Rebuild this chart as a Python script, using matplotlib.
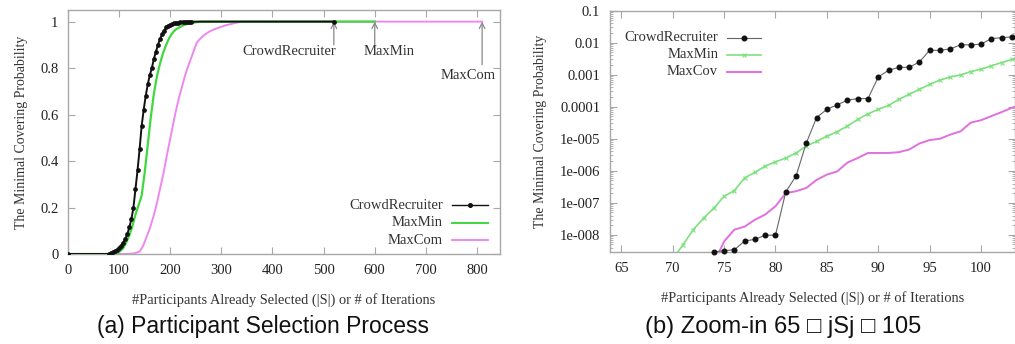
import matplotlib
matplotlib.use("Agg")
import matplotlib.pyplot as plt
from matplotlib.lines import Line2D
from matplotlib.ticker import FixedLocator, FixedFormatter, LogLocator, NullFormatter

# ---------------- data: panel (a) ----------------
crowd_x = [0, 80, 84, 88, 92, 96, 100, 104, 108, 112, 116, 120, 124, 128, 132, 136, 140,
           144, 148, 152, 156, 160, 164, 168, 172, 176, 180, 184, 188, 192, 196, 200, 204,
           208, 212, 216, 220, 224, 228, 232, 236, 240, 520]
crowd_y = [0.0, 0.0, 0.005, 0.008, 0.012, 0.018, 0.025, 0.035, 0.048, 0.065, 0.085, 0.115,
           0.15, 0.20, 0.28, 0.36, 0.45, 0.55, 0.62, 0.68, 0.73, 0.77, 0.80, 0.84, 0.87,
           0.90, 0.925, 0.945, 0.96, 0.975, 0.982, 0.987, 0.99, 0.993, 0.995, 0.996, 0.997,
           0.998, 0.999, 0.999, 1.0, 1.0, 1.0]

maxmin_x = [0, 90, 96, 102, 108, 114, 120, 126, 132, 138, 144, 150, 156, 162, 168, 174,
            180, 186, 192, 198, 204, 210, 220, 230, 240, 250, 260, 600]
maxmin_y = [0.0, 0.0, 0.005, 0.012, 0.025, 0.05, 0.08, 0.12, 0.17, 0.21, 0.25, 0.35, 0.47,
            0.59, 0.69, 0.765, 0.82, 0.865, 0.90, 0.93, 0.95, 0.965, 0.978, 0.988, 0.993,
            0.997, 1.0, 1.0]

maxcom_x = [0, 120, 130, 140, 147, 154, 160, 167, 174, 180, 187, 193, 198, 203, 208, 213,
            218, 223, 228, 232, 237, 242, 247, 252, 258, 265, 275, 284, 296, 310, 325, 340, 810]
maxcom_y = [0.0, 0.0, 0.003, 0.01, 0.035, 0.075, 0.11, 0.16, 0.22, 0.28, 0.35, 0.42, 0.475,
            0.53, 0.585, 0.635, 0.68, 0.72, 0.76, 0.79, 0.82, 0.85, 0.88, 0.91, 0.925, 0.94,
            0.955, 0.965, 0.975, 0.985, 0.993, 1.0, 1.0]

a_xticks = [0, 100, 200, 300, 400, 500, 600, 700, 800]
a_yticks = [0, 0.2, 0.4, 0.6, 0.8, 1]
a_yticklabels = ["0", "0.2", "0.4", "0.6", "0.8", "1"]

# ---------------- data: panel (b) ----------------
zc_x = [74, 75, 76, 77, 78, 79, 80, 81, 82, 83, 84, 85, 86, 87, 88, 89, 90, 91, 92, 93,
        94, 95, 96, 97, 98, 99, 100, 101, 102, 103]
zc_y = [2.9e-9, 3.2e-9, 3.4e-9, 6.4e-9, 7.2e-9, 9.7e-9, 9.7e-9, 2.2e-7, 6.9e-7, 7.4e-6,
        4.6e-5, 8.3e-5, 1.15e-4, 1.6e-4, 1.8e-4, 1.8e-4, 8.5e-4, 1.38e-3, 1.7e-3, 1.7e-3,
        2.5e-3, 5.8e-3, 5.8e-3, 6.4e-3, 8.6e-3, 8.6e-3, 9.0e-3, 1.35e-2, 1.43e-2, 1.53e-2]

zm_x = [70, 71, 72, 73, 74, 75, 76, 77, 78, 79, 80, 81, 82, 83, 84, 85, 86, 87, 88, 89,
        90, 91, 92, 93, 94, 95, 96, 97, 98, 99, 100, 101, 102, 103, 104]
zm_y = [1.7e-9, 4.9e-9, 1.45e-8, 3.3e-8, 6.8e-8, 1.6e-7, 2.4e-7, 6.0e-7, 8.9e-7, 1.4e-6,
        1.9e-6, 2.5e-6, 3.6e-6, 5.9e-6, 8.3e-6, 1.2e-5, 1.66e-5, 2.5e-5, 4.0e-5, 6.0e-5,
        8.3e-5, 1.1e-4, 1.7e-4, 2.45e-4, 3.5e-4, 5.0e-4, 6.8e-4, 8.5e-4, 9.8e-4, 1.26e-3,
        1.48e-3, 1.9e-3, 2.4e-3, 3.0e-3, 3.8e-3]

zv_x = [74, 75, 76, 77, 78, 79, 80, 81, 82, 83, 84, 85, 86, 87, 88, 89, 90, 91, 92, 93,
        94, 95, 96, 97, 98, 99, 100, 101, 102, 103, 104]
zv_y = [1.3e-9, 6.2e-9, 1.45e-8, 1.8e-8, 2.95e-8, 4.3e-8, 7.8e-8, 2.0e-7, 2.3e-7, 2.9e-7,
        5.2e-7, 7.6e-7, 9.5e-7, 1.8e-6, 2.5e-6, 3.6e-6, 3.6e-6, 3.6e-6, 3.8e-6, 4.6e-6,
        7.1e-6, 9.1e-6, 1.0e-5, 1.35e-5, 1.7e-5, 3.2e-5, 3.8e-5, 5.1e-5, 6.8e-5, 9.3e-5, 1.2e-4]

b_xticks = [65, 70, 75, 80, 85, 90, 95, 100]
b_yticks = [1e-1, 1e-2, 1e-3, 1e-4, 1e-5, 1e-6, 1e-7, 1e-8]
b_yticklabels = ["0.1", "0.01", "0.001", "0.0001", "1e-005", "1e-006", "1e-007", "1e-008"]

a_labels = ["CrowdRecruiter", "MaxMin", "MaxCom"]
b_labels = ["CrowdRecruiter", "MaxMin", "MaxCov"]
xlabel = "#Participants Already Selected (|S|) or # of Iterations"
ylabel = "The Minimal Covering Probability"
cap_a = "(a) Participant Selection Process"
cap_b = "(b) Zoom-in 65 \u25a1 jSj \u25a1 105"

# ---------------- style ----------------
SERIF = ["Liberation Serif", "DejaVu Serif"]
SANS = ["Liberation Sans", "DejaVu Sans"]
plt.rcParams["font.family"] = SERIF
SPINE = "#a8a8a8"
BLACK = "#111111"
GREEN = "#3fd83f"
GREEN_B = "#7fe07f"
PINK = "#ee88ee"
PINK_B = "#e070e0"
TXT = "#333333"

W, H = 1015, 344
fig = plt.figure(figsize=(W / 100, H / 100), dpi=100)


def style_axes(ax):
    for s in ax.spines.values():
        s.set_color(SPINE)
        s.set_linewidth(1.0)
    ax.tick_params(which="both", direction="in", top=True, right=True,
                   color=SPINE, labelsize=10.5, labelcolor="#222222")
    ax.tick_params(which="major", length=5, width=0.8, pad=7)
    ax.tick_params(which="minor", length=2.5, width=0.6)


# ---------------- panel (a) ----------------
axa = fig.add_axes([68 / W, 1 - 254 / H, (500 - 68) / W, (254 - 10) / H])
axa.plot(crowd_x, crowd_y, color=BLACK, lw=1.4, marker="o", ms=2.4, zorder=4)
axa.plot(maxmin_x, maxmin_y, color=GREEN, lw=1.6, zorder=3)
axa.plot(maxcom_x, maxcom_y, color=PINK, lw=1.4, zorder=2)
axa.set_xlim(0, 845)
axa.set_ylim(0, 1.05)
axa.xaxis.set_major_locator(FixedLocator(a_xticks))
axa.yaxis.set_major_locator(FixedLocator(a_yticks))
axa.yaxis.set_major_formatter(FixedFormatter(a_yticklabels))
style_axes(axa)

arrow_kw = dict(arrowstyle="->", color="#888888", lw=0.9, shrinkA=0, shrinkB=0)
axa.annotate("", xy=(crowd_x[-1], 1.0), xytext=(crowd_x[-1], 0.9), arrowprops=arrow_kw)
axa.annotate("", xy=(maxmin_x[-1], 1.0), xytext=(maxmin_x[-1], 0.9), arrowprops=arrow_kw)
axa.annotate("", xy=(maxcom_x[-1], 1.0), xytext=(maxcom_x[-1], 0.815), arrowprops=arrow_kw)
axa.text(crowd_x[-1] + 5, 0.87, a_labels[0], ha="right", va="center", fontsize=10.5, color=TXT)
axa.text(maxmin_x[-1] + 28, 0.87, a_labels[1], ha="center", va="center", fontsize=10.5, color=TXT)
axa.text(maxcom_x[-1] - 28, 0.77, a_labels[2], ha="center", va="center", fontsize=10.5, color=TXT)

# legend (gnuplot style: right-aligned text, sample to the right)
leg_a = [(a_labels[0], dict(color=BLACK, lw=1.0, marker="o", ms=2.6)),
         (a_labels[1], dict(color=GREEN, lw=1.4)),
         (a_labels[2], dict(color=PINK, lw=1.4))]
for i, (lab, kw) in enumerate(leg_a):
    yy = 0.20 - i * 0.072
    axa.text(0.868, yy, lab, transform=axa.transAxes, ha="right", va="center",
             fontsize=10.5, color=TXT)
    axa.add_line(Line2D([0.889, 0.9305, 0.972], [yy, yy, yy], transform=axa.transAxes,
                        markevery=[1], **kw))

axa.set_xlabel(xlabel, fontsize=10.4, color=TXT, labelpad=12)
axa.set_ylabel(ylabel, fontsize=10, color=TXT, labelpad=9)

# ---------------- panel (b) ----------------
axb = fig.add_axes([610 / W, 1 - 252 / H, (1015 - 610) / W, (252 - 10.7) / H])
axb.set_yscale("log")
axb.plot(zm_x, zm_y, color=GREEN_B, lw=1.2, marker="x", ms=2.5, mew=0.8, zorder=2)
axb.plot(zv_x, zv_y, color=PINK_B, lw=1.4, zorder=2)
axb.plot(zc_x, zc_y, color="#666666", lw=0.8, marker="o", ms=3.3,
         mfc=BLACK, mec=BLACK, zorder=4, clip_on=False)
axb.set_xlim(63.9, 103.3)
axb.set_ylim(2.9e-9, 0.1)
axb.xaxis.set_major_locator(FixedLocator(b_xticks))
axb.yaxis.set_major_locator(FixedLocator(b_yticks))
axb.yaxis.set_major_formatter(FixedFormatter(b_yticklabels))
axb.yaxis.set_minor_locator(LogLocator(base=10, subs=(2, 3, 4, 5, 6, 7, 8, 9), numticks=20))
axb.yaxis.set_minor_formatter(NullFormatter())
style_axes(axb)

leg_b = [(b_labels[0], dict(color="#666666", lw=0.8, marker="o", ms=3.3, mfc=BLACK, mec=BLACK)),
         (b_labels[1], dict(color=GREEN_B, lw=1.2, marker="x", ms=2.5, mew=0.8)),
         (b_labels[2], dict(color=PINK_B, lw=1.4))]
for i, (lab, kw) in enumerate(leg_b):
    yy = 0.888 - i * 0.071
    axb.text(0.267, yy, lab, transform=axb.transAxes, ha="right", va="center",
             fontsize=10.5, color=TXT)
    axb.add_line(Line2D([0.289, 0.331, 0.373], [yy, yy, yy], transform=axb.transAxes,
                        markevery=[1], **kw))

axb.set_xlabel(xlabel, fontsize=10.4, color=TXT, labelpad=12)
axb.set_ylabel(ylabel, fontsize=10, color=TXT, labelpad=9)

# ---------------- captions ----------------
fig.text(263 / W, 1 - 327 / H, cap_a, ha="center", va="center", fontsize=16.5,
         family=SANS, color="#111111")
fig.text(783 / W, 1 - 327 / H, cap_b, ha="center", va="center", fontsize=17,
         family=SANS, color="#111111")

fig.savefig("out.png", dpi=100)
